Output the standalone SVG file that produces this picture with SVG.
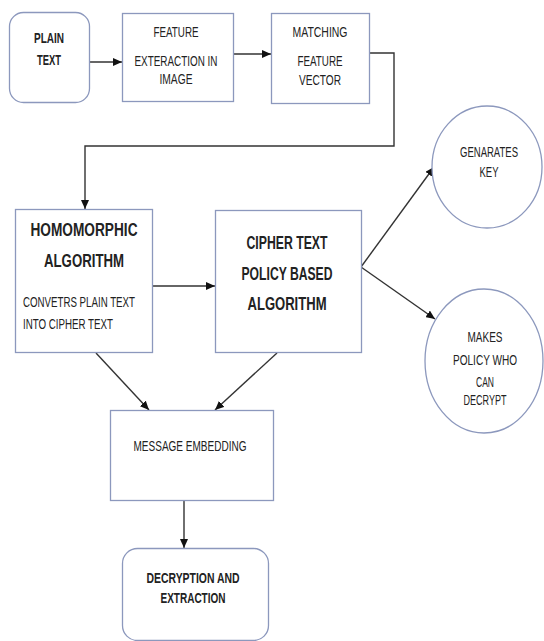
<svg xmlns="http://www.w3.org/2000/svg" width="544" height="641" viewBox="0 0 544 641">
<style>
.box{fill:#fff;stroke:#8c98bd;stroke-width:1.3}
.ln{fill:none;stroke:#333;stroke-width:1.4}
text{font-family:"Liberation Sans",Arial,sans-serif;fill:#222;text-anchor:middle;font-size:15px}
.b{font-weight:bold}
.h{font-weight:bold;font-size:19px}
.l{text-anchor:start}
.c{font-size:14px}
</style>
<defs>
<marker id="ah" markerUnits="userSpaceOnUse" markerWidth="10" markerHeight="8" refX="9" refY="4" orient="auto">
<path d="M0,0 L9,4 L0,8 Z" fill="#111"/>
</marker>
</defs>
<rect width="544" height="641" fill="#fff"/>
<g id="connectors">
<line class="ln" x1="89" y1="62" x2="122" y2="62" marker-end="url(#ah)"/>
<line class="ln" x1="233" y1="54" x2="271" y2="54" marker-end="url(#ah)"/>
<polyline class="ln" points="369,53 394,53 394,146 85,146 85,209" marker-end="url(#ah)"/>
<line class="ln" x1="153" y1="286" x2="215" y2="286" marker-end="url(#ah)"/>
<line class="ln" x1="361" y1="267" x2="434" y2="167" marker-end="url(#ah)"/>
<line class="ln" x1="361" y1="267" x2="435" y2="319" marker-end="url(#ah)"/>
<line class="ln" x1="96" y1="353" x2="149" y2="410" marker-end="url(#ah)"/>
<line class="ln" x1="277" y1="353" x2="215" y2="410" marker-end="url(#ah)"/>
<line class="ln" x1="184" y1="501" x2="184" y2="548" marker-end="url(#ah)"/>
</g>
<g id="plain-text">
<rect class="box" x="9.5" y="12.5" width="80" height="90" rx="14"/>
<text class="b" x="49" y="43" font-size="15" textLength="30" lengthAdjust="spacingAndGlyphs">PLAIN</text>
<text class="b" x="49" y="65" font-size="15" textLength="24" lengthAdjust="spacingAndGlyphs">TEXT</text>
</g>
<g id="feature-extraction">
<rect class="box" x="122.5" y="13.5" width="111" height="88"/>
<text x="176" y="36.5" textLength="45" lengthAdjust="spacingAndGlyphs">FEATURE</text>
<text x="176" y="66" textLength="83" lengthAdjust="spacingAndGlyphs">EXTERACTION IN</text>
<text x="176" y="84" textLength="33" lengthAdjust="spacingAndGlyphs">IMAGE</text>
</g>
<g id="matching">
<rect class="box" x="271.5" y="13.5" width="98" height="90"/>
<text x="320" y="36.5" textLength="55" lengthAdjust="spacingAndGlyphs">MATCHING</text>
<text x="320" y="66" textLength="45" lengthAdjust="spacingAndGlyphs">FEATURE</text>
<text x="320" y="85" textLength="42" lengthAdjust="spacingAndGlyphs">VECTOR</text>
</g>
<g id="homomorphic">
<rect class="box" x="15.5" y="209.5" width="137" height="143"/>
<text class="h" x="84" y="236" textLength="107" lengthAdjust="spacingAndGlyphs">HOMOMORPHIC</text>
<text class="h" x="84" y="267" textLength="80" lengthAdjust="spacingAndGlyphs">ALGORITHM</text>
<text class="l" x="23" y="307" textLength="112" lengthAdjust="spacingAndGlyphs">CONVETRS PLAIN TEXT</text>
<text class="l" x="23" y="329" textLength="90" lengthAdjust="spacingAndGlyphs">INTO CIPHER TEXT</text>
</g>
<g id="cipher">
<rect class="box" x="215.5" y="210.5" width="146" height="142"/>
<text class="h" x="287" y="249" textLength="81" lengthAdjust="spacingAndGlyphs">CIPHER TEXT</text>
<text class="h" x="287" y="280" textLength="91" lengthAdjust="spacingAndGlyphs">POLICY BASED</text>
<text class="h" x="287" y="310" textLength="79" lengthAdjust="spacingAndGlyphs">ALGORITHM</text>
</g>
<g id="generates-key">
<ellipse class="box" cx="487" cy="167" rx="55" ry="61"/>
<text class="c" x="489" y="157" textLength="58" lengthAdjust="spacingAndGlyphs">GENARATES</text>
<text class="c" x="489" y="177" textLength="19" lengthAdjust="spacingAndGlyphs">KEY</text>
</g>
<g id="makes-policy">
<ellipse class="box" cx="484" cy="361" rx="59" ry="72"/>
<text class="c" x="485" y="342" textLength="35" lengthAdjust="spacingAndGlyphs">MAKES</text>
<text class="c" x="485" y="365" textLength="64" lengthAdjust="spacingAndGlyphs">POLICY WHO</text>
<text class="c" x="485" y="387" textLength="18" lengthAdjust="spacingAndGlyphs">CAN</text>
<text class="c" x="485" y="405" textLength="43" lengthAdjust="spacingAndGlyphs">DECRYPT</text>
</g>
<g id="message-embedding">
<rect class="box" x="110.5" y="410.5" width="163" height="90"/>
<text x="190" y="451" textLength="113" lengthAdjust="spacingAndGlyphs">MESSAGE EMBEDDING</text>
</g>
<g id="decryption">
<rect class="box" x="122.5" y="548.5" width="146" height="92" rx="15"/>
<text class="b" x="193" y="583" textLength="93" lengthAdjust="spacingAndGlyphs">DECRYPTION AND</text>
<text class="b" x="193" y="603" textLength="65" lengthAdjust="spacingAndGlyphs">EXTRACTION</text>
</g>
</svg>
